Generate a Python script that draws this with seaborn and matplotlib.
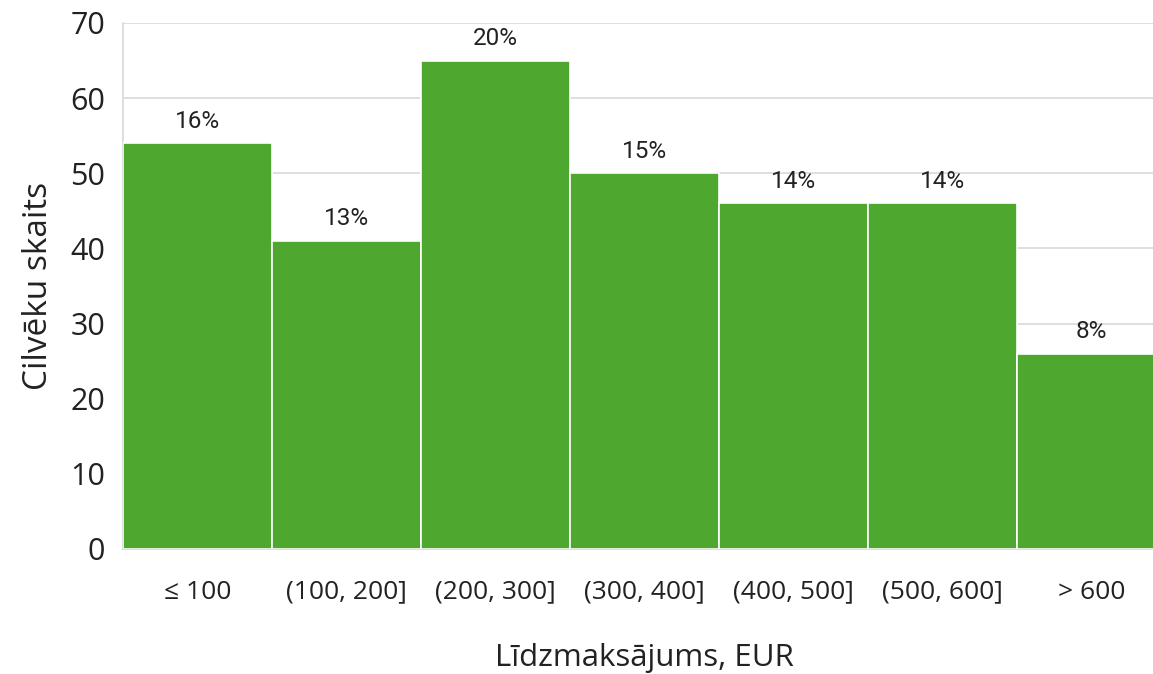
import matplotlib
matplotlib.use("Agg")
import matplotlib.pyplot as plt
import seaborn as sns
import pandas as pd

categories = ["≤ 100", "(100, 200]", "(200, 300]", "(300, 400]", "(400, 500]", "(500, 600]", "> 600"]
counts = [54, 41, 65, 50, 46, 46, 26]
pct_labels = ["16%", "13%", "20%", "15%", "14%", "14%", "8%"]

sns.set_style("white")
plt.rcParams["font.family"] = ["Open Sans", "DejaVu Sans"]

df = pd.DataFrame({"cat": categories, "n": counts})

fig = plt.figure(figsize=(11.53, 6.74), dpi=100)
# last bar is clipped by the right edge of the figure, as in the original
ax = fig.add_axes([0.1067, 0.1855, 0.9046, 0.7804])

sns.barplot(data=df, x="cat", y="n", color="#4ea72e", saturation=1,
            width=1.0, edgecolor="white", linewidth=1.2, ax=ax, zorder=3)

for i, (v, lab) in enumerate(zip(counts, pct_labels)):
    ax.text(i, v + 1.4, lab, ha="center", va="bottom", fontsize=17.5,
            family=["Roboto", "DejaVu Sans"], color="#222222", zorder=4)

ax.set_ylim(0, 70)
ax.set_xlim(-0.5, 6.5)
ax.set_yticks(range(0, 71, 10))
ax.yaxis.grid(True, color="#d9d9d9", linewidth=1.2, zorder=0)
ax.tick_params(axis="y", labelsize=22, pad=13, length=0, colors="#222222")
ax.tick_params(axis="x", labelsize=19, pad=22, length=0, colors="#222222")
for s in ["top", "right"]:
    ax.spines[s].set_visible(False)
for s in ["left", "bottom"]:
    ax.spines[s].set_color("#d9d9d9")
    ax.spines[s].set_linewidth(1.2)

ax.set_xlabel("Līdzmaksājums, EUR", fontsize=22.5, labelpad=28, color="#222222")
ax.set_ylabel("Cilvēku skaits", fontsize=24, labelpad=11, color="#222222")

fig.savefig("out.png", dpi=100)
